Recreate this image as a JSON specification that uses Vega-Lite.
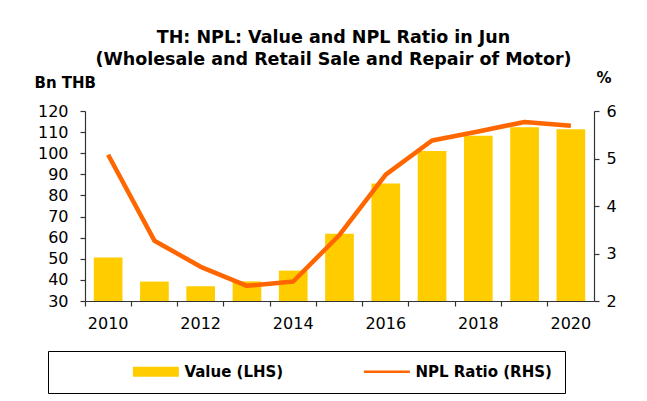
{
  "$schema": "https://vega.github.io/schema/vega-lite/v6.json",
  "width": 509,
  "height": 190,
  "autosize": {"type": "none"},
  "padding": {"left": 85, "top": 111, "right": 53, "bottom": 100},
  "background": "white",
  "config": {
    "font": "DejaVu Sans",
    "view": {"stroke": null},
    "axis": {
      "domainColor": "#333333",
      "tickColor": "#333333",
      "labelColor": "#000000",
      "labelFontSize": 16,
      "labelFont": "DejaVu Sans",
      "grid": false,
      "tickSize": 5,
      "domainWidth": 1.2,
      "tickWidth": 1.2
    }
  },
  "title": {
    "text": ["TH: NPL: Value and NPL Ratio in Jun", "(Wholesale and Retail Sale and Repair of Motor)"],
    "fontSize": 17.5,
    "fontWeight": "bold",
    "font": "DejaVu Sans",
    "color": "#000000",
    "lineHeight": 21.5,
    "anchor": "middle",
    "offset": 2,
    "dx": -6
  },
  "data": {
    "values": [
      {"year": "2010", "value": 50.6, "npl": 5.08},
      {"year": "2011", "value": 39.2, "npl": 3.27},
      {"year": "2012", "value": 37.0, "npl": 2.72},
      {"year": "2013", "value": 39.3, "npl": 2.32},
      {"year": "2014", "value": 44.4, "npl": 2.41},
      {"year": "2015", "value": 61.9, "npl": 3.39},
      {"year": "2016", "value": 85.6, "npl": 4.66},
      {"year": "2017", "value": 101.1, "npl": 5.38},
      {"year": "2018", "value": 108.3, "npl": 5.57},
      {"year": "2019", "value": 112.3, "npl": 5.77},
      {"year": "2020", "value": 111.3, "npl": 5.69}
    ]
  },
  "layer": [
    {
      "mark": {"type": "bar", "width": {"band": 0.62}},
      "encoding": {
        "x": {
          "field": "year", "type": "ordinal",
          "scale": {"paddingInner": 0, "paddingOuter": 0},
          "axis": {"orient": "bottom", "title": null, "labelAngle": 0, "ticks": false,
                   "labelExpr": "toNumber(datum.value) % 2 == 0 ? datum.value : ''", "labelPadding": 14}
        },
        "y": {
          "field": "value", "type": "quantitative",
          "scale": {"domain": [30, 120], "nice": false, "zero": false},
          "axis": {"orient": "left", "values": [30, 40, 50, 60, 70, 80, 90, 100, 110, 120],
                   "title": "Bn THB", "titleAngle": 0, "titleX": -51, "titleY": -24,
                   "titleAlign": "left", "titleBaseline": "alphabetic", "titleFontSize": 15,
                   "titleFontWeight": "bold", "titleColor": "#000000", "labelPadding": 12}
        },
        "y2": {"datum": 30},
        "color": {
          "datum": "Value (LHS)",
          "scale": {"domain": ["Value (LHS)", "NPL Ratio (RHS)"], "range": ["#FFCC00", "#FF6600"]},
          "legend": {
            "orient": "none", "legendX": -37, "legendY": 240, "direction": "horizontal",
            "columns": 2, "columnPadding": 8, "title": null,
            "symbolSize": 84.6, "symbolOffset": 87.4, "labelOffset": 21,
            "labelFontSize": 15, "labelFontWeight": "bold", "labelColor": "#000000", "labelFont": "DejaVu Sans",
            "strokeColor": "#000000", "padding": 13, "fillColor": "white",
            "labelExpr": "datum.label == 'NPL Ratio (RHS)' ? datum.label + '\u00a0\u00a0\u00a0\u00a0\u00a0\u00a0\u00a0\u00a0\u00a0\u00a0\u00a0\u00a0\u00a0\u00a0\u00a0\u00a0' : datum.label",
            "encode": {
              "symbols": {
                "update": {
                  "shape": {"signal": "datum.value === 'Value (LHS)' ? 'M-5,-1.1H5V1.1H-5Z' : 'M-5,-0.28H5V0.28H-5Z'"},
                  "fill": {"scale": "color", "field": "value"},
                  "stroke": {"value": "transparent"},
                  "strokeWidth": {"value": 0},
                  "opacity": {"value": 1}
                }
              }
            }
          }
        }
      }
    },
    {
      "mark": {"type": "line", "strokeWidth": 4.5, "strokeJoin": "round"},
      "encoding": {
        "x": {
          "field": "year", "type": "ordinal",
          "axis": {"orient": "bottom", "title": null, "labels": false, "domain": false, "ticks": true, "bandPosition": 0}
        },
        "y": {
          "field": "npl", "type": "quantitative",
          "scale": {"domain": [2, 6], "nice": false, "zero": false},
          "axis": {"orient": "right", "values": [2, 3, 4, 5, 6],
                   "title": "%", "titleAngle": 0, "titleX": 2, "titleY": -29,
                   "titleAlign": "left", "titleBaseline": "alphabetic", "titleFontSize": 15,
                   "titleFontWeight": "bold", "titleColor": "#000000", "labelPadding": 7}
        },
        "color": {"datum": "NPL Ratio (RHS)"}
      }
    }
  ],
  "resolve": {"scale": {"y": "independent"}, "axis": {"x": "independent"}}
}
